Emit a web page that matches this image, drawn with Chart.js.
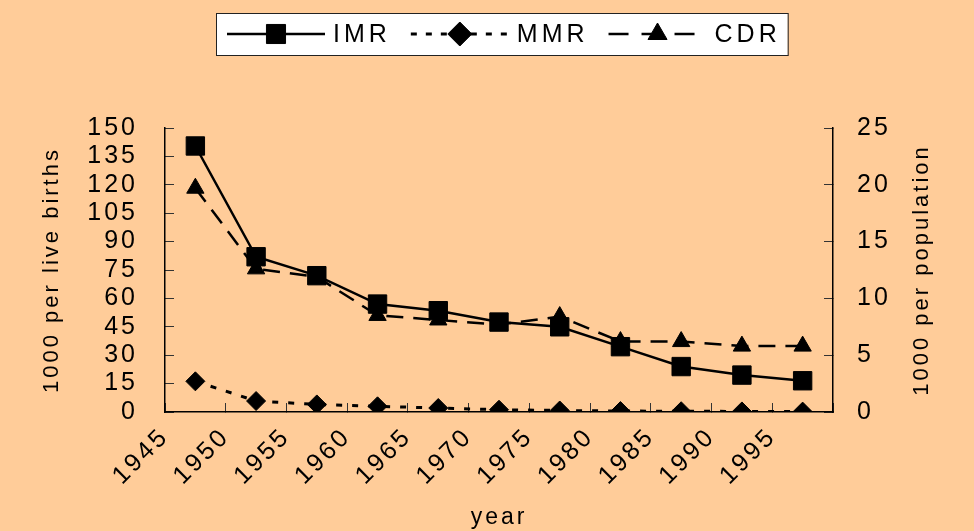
<!DOCTYPE html>
<html>
<head>
<meta charset="utf-8">
<script src="https://cdn.jsdelivr.net/npm/chart.js@4"></script>
<style>
  html, body { margin: 0; padding: 0; background: #FFCC99; }
  #wrap { width: 974px; height: 531px; position: relative; }
</style>
</head>
<body>
<div id="wrap"><canvas id="c"></canvas></div>
<script>
// Five-year periods, plotted at their mid-points
const periodMid = [1947.5, 1952.5, 1957.5, 1962.5, 1967.5, 1972.5, 1977.5, 1982.5, 1987.5, 1992.5, 1997.5];

// Infant mortality rate (per 1000 live births)
const imr = [140.5, 82, 72, 57, 53.5, 47.5, 45, 34.5, 24, 19.5, 16.5];
// Maternal mortality rate (per 1000 live births)
const mmr = [16.2, 5.8, 4.0, 3.0, 2.1, 1.2, 0.8, 0.5, 0.4, 0.3, 0.2];
// Crude death rate (per 1000 population)
const cdr = [19.7, 12.6, 11.9, 8.5, 8.1, 7.7, 8.4, 6.2, 6.2, 5.8, 5.8];

const seriesNames = ['IMR', 'MMR', 'CDR'];
const yearTickLabels = ['1945', '1950', '1955', '1960', '1965', '1970', '1975', '1980', '1985', '1990', '1995'];
const leftTitle = '1000 per live births';
const rightTitle = '1000 per population';
const xTitle = 'year';

const FONT = "'Liberation Sans', Arial, sans-serif";
const INK = '#000';

const toPoints = (vals) => periodMid.map((x, i) => ({ x, y: vals[i] }));

// Legend box with line + marker samples, drawn from the dataset styles
const lineLegend = {
  id: 'lineLegend',
  afterDraw(chart, args, opts) {
    const ctx = chart.ctx;
    ctx.save();
    ctx.letterSpacing = '4px';
    ctx.font = '25px ' + FONT;
    ctx.textBaseline = 'middle';
    ctx.textAlign = 'left';
    const cy = opts.y + opts.h / 2;
    let x = opts.x + opts.inset;
    const items = chart.data.datasets.map(ds => {
      const item = { ds, sx: x };
      x += opts.sample + opts.gap;
      item.tx = x;
      x += ctx.measureText(ds.label).width + opts.itemGap;
      return item;
    });
    const right = x - opts.itemGap + opts.inset - 4;
    ctx.fillStyle = '#fff';
    ctx.fillRect(opts.x, opts.y, right - opts.x, opts.h);
    ctx.strokeStyle = '#222';
    ctx.lineWidth = 1;
    ctx.strokeRect(opts.x + 0.5, opts.y + 0.5, right - opts.x, opts.h);
    items.forEach(({ ds, sx, tx }) => {
      ctx.save();
      ctx.strokeStyle = ds.borderColor;
      ctx.lineWidth = ds.borderWidth;
      ctx.setLineDash(ds.legendDash || ds.borderDash || []);
      ctx.beginPath();
      ctx.moveTo(sx, cy);
      ctx.lineTo(sx + opts.sample, cy);
      ctx.stroke();
      ctx.restore();
      ctx.fillStyle = ds.pointBackgroundColor;
      ctx.strokeStyle = ds.pointBorderColor;
      ctx.lineWidth = 1;
      Chart.helpers.drawPoint(ctx, {
        pointStyle: ds.pointStyle,
        radius: ds.legendRadius || ds.pointRadius,
        rotation: 0,
        borderWidth: 1
      }, sx + opts.sample / 2, cy);
      ctx.fillStyle = INK;
      ctx.fillText(ds.label, tx, cy + 1);
    });
    ctx.restore();
  }
};

// Right-hand axis title, reading bottom-to-top like the left one
const rightAxisTitle = {
  id: 'rightAxisTitle',
  afterDraw(chart, args, opts) {
    const s = chart.scales.yR;
    const ctx = chart.ctx;
    ctx.save();
    ctx.letterSpacing = '3px';
    ctx.font = opts.size + 'px ' + FONT;
    ctx.fillStyle = INK;
    ctx.textAlign = 'center';
    ctx.textBaseline = 'middle';
    ctx.translate(s.right - opts.offset, (s.top + s.bottom) / 2);
    ctx.rotate(-Math.PI / 2);
    ctx.fillText(opts.text, 0, 0);
    ctx.restore();
  }
};

// Spaced-out lettering for all chart text
const spacing = {
  id: 'spacing',
  beforeUpdate(chart) { chart.ctx.letterSpacing = '3px'; },
  beforeDraw(chart) { chart.ctx.letterSpacing = '3px'; }
};

const commonLine = {
  type: 'line',
  borderColor: INK,
  borderWidth: 2.5,
  pointBackgroundColor: INK,
  pointBorderColor: INK,
  pointBorderWidth: 1,
  fill: false,
  tension: 0
};

new Chart(document.getElementById('c'), {
  type: 'line',
  data: {
    datasets: [
      Object.assign({}, commonLine, {
        label: seriesNames[0], data: toPoints(imr), yAxisID: 'yL',
        pointStyle: 'rect', pointRadius: 13, legendRadius: 13.5, borderDash: []
      }),
      Object.assign({}, commonLine, {
        label: seriesNames[1], data: toPoints(mmr), yAxisID: 'yL', borderWidth: 3,
        pointStyle: 'rectRot', pointRadius: 9.5, legendRadius: 12, borderDash: [6, 10], legendDash: [6, 9]
      }),
      Object.assign({}, commonLine, {
        label: seriesNames[2], data: toPoints(cdr), yAxisID: 'yR',
        pointStyle: 'triangle', pointRadius: 10, legendRadius: 11, borderDash: [17, 10], legendDash: [20, 13]
      })
    ]
  },
  options: {
    responsive: true,
    maintainAspectRatio: false,
    animation: false,
    events: [],
    layout: { padding: { top: 128, left: 0, right: 0, bottom: 0 } },
    plugins: {
      legend: { display: false },
      tooltip: { enabled: false },
      lineLegend: { x: 216, y: 13, h: 42, inset: 11, sample: 98, gap: 8, itemGap: 20 },
      rightAxisTitle: { text: rightTitle, size: 22, offset: 52 }
    },
    scales: {
      x: {
        type: 'linear',
        min: 1945, max: 2000,
        border: { display: true, color: INK, width: 1.5 },
        grid: { drawOnChartArea: false, drawTicks: true, tickLength: -9, color: '#333', lineWidth: 1 },
        ticks: {
          stepSize: 5, autoSkip: false, minRotation: 45, maxRotation: 45,
          padding: 19, color: INK, font: { family: FONT, size: 25 },
          callback: (v) => yearTickLabels.includes(String(v)) ? String(v) : ''
        },
        title: { display: true, text: xTitle, color: INK, font: { family: FONT, size: 23 }, padding: { top: 0, bottom: 0 } },
        afterFit: (s) => { s.height = 119; }
      },
      yL: {
        position: 'left', min: 0, max: 150,
        border: { display: true, color: INK, width: 1.5 },
        grid: { drawOnChartArea: false, drawTicks: true, tickLength: -9, color: '#333', lineWidth: 1 },
        ticks: { stepSize: 15, autoSkip: false, padding: 36, color: INK, font: { family: FONT, size: 25 } },
        title: { display: true, text: leftTitle, color: INK, font: { family: FONT, size: 22 }, padding: { top: 39, bottom: 0 } },
        afterFit: (s) => { s.width = 165; }
      },
      yR: {
        position: 'right', min: 0, max: 25,
        border: { display: true, color: INK, width: 1.5 },
        grid: { drawOnChartArea: false, drawTicks: true, tickLength: -9, color: '#333', lineWidth: 1 },
        ticks: { stepSize: 5, autoSkip: false, padding: 33, color: INK, font: { family: FONT, size: 25 } },
        title: { display: false },
        afterFit: (s) => { s.width = 141; }
      }
    }
  },
  plugins: [spacing, lineLegend, rightAxisTitle]
});
</script>
</body>
</html>
